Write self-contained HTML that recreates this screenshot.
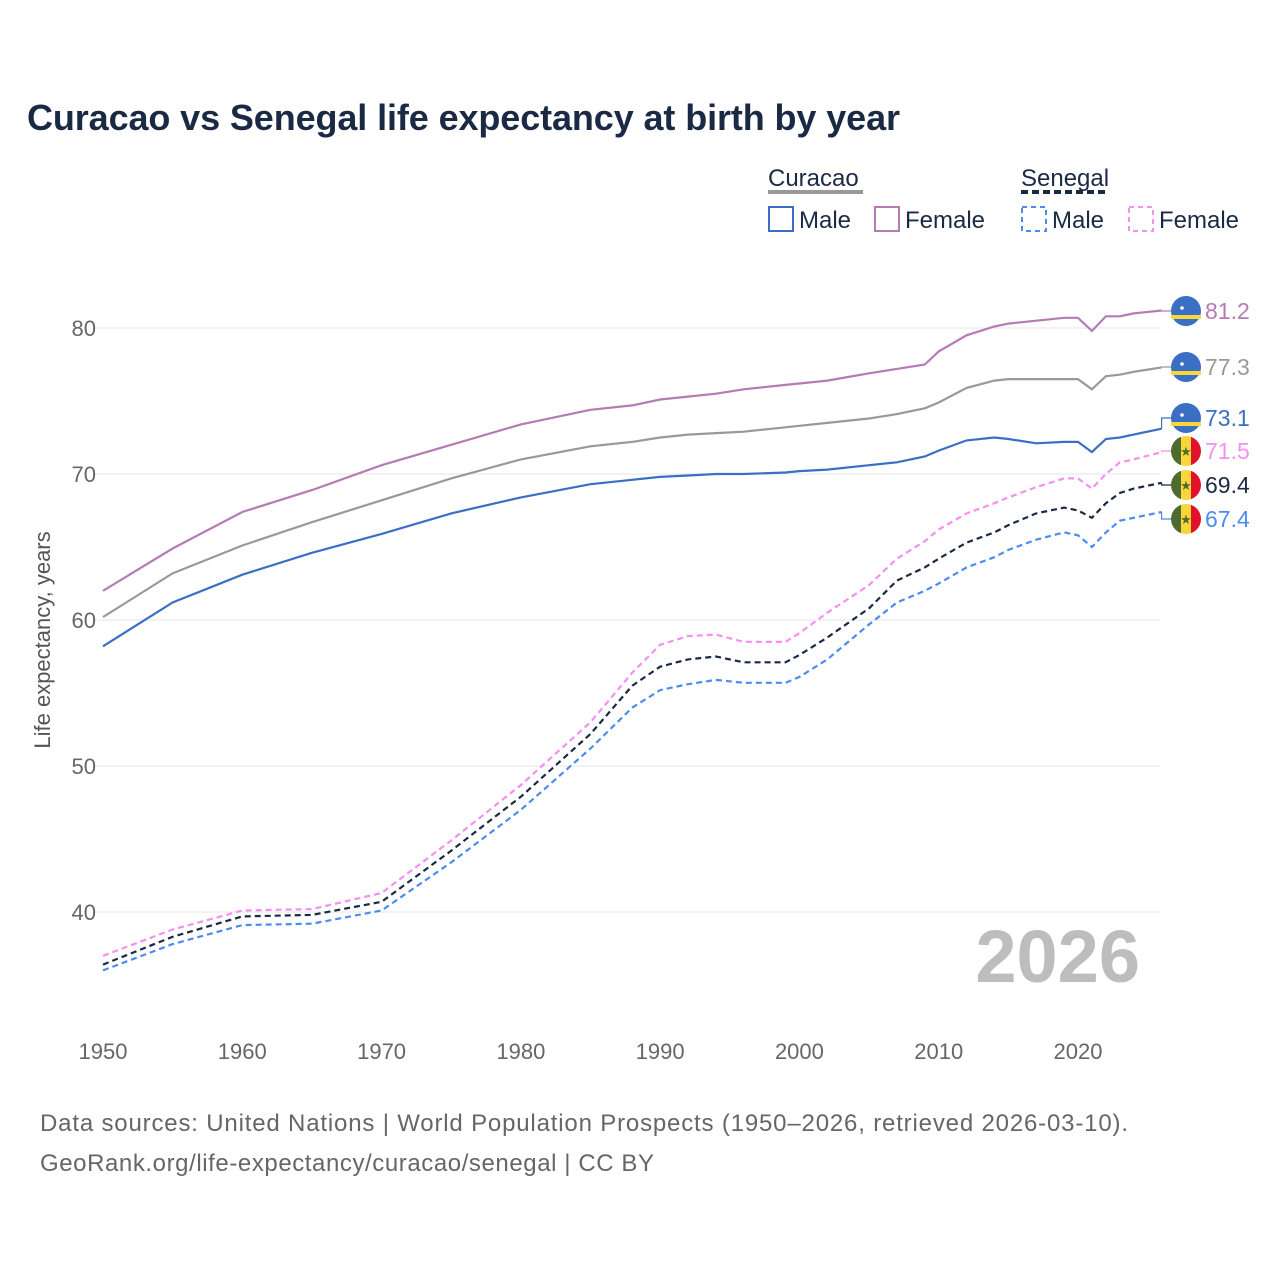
<!DOCTYPE html>
<html><head><meta charset="utf-8"><style>
body{margin:0;background:#fff;font-family:"Liberation Sans",sans-serif}
</style></head><body>
<svg id="chart" width="1280" height="1280" viewBox="0 0 1280 1280" xmlns="http://www.w3.org/2000/svg" font-family="Liberation Sans, sans-serif">
<text x="27" y="130" font-size="36" font-weight="bold" fill="#1b2a44" textLength="873">Curacao vs Senegal life expectancy at birth by year</text>
<g>
<text x="768" y="186" font-size="24" fill="#1b2a44">Curacao</text>
<line x1="768" y1="192" x2="863" y2="192" stroke="#999" stroke-width="4"/>
<text x="1021" y="186" font-size="24" fill="#1b2a44">Senegal</text>
<line x1="1021" y1="192" x2="1109" y2="192" stroke="#1b2a44" stroke-width="4" stroke-dasharray="7,4"/>
<g><rect x="769" y="207" width="24" height="24" fill="none" stroke="#3a6fc4" stroke-width="2"/><text x="799" y="228" font-size="24" fill="#1b2a44">Male</text></g>
<g><rect x="875" y="207" width="24" height="24" fill="none" stroke="#b57bb5" stroke-width="2"/><text x="905" y="228" font-size="24" fill="#1b2a44">Female</text></g>
<g><rect x="1022" y="207" width="24" height="24" fill="none" stroke="#4a8cf0" stroke-width="2" stroke-dasharray="5,4"/><text x="1052" y="228" font-size="24" fill="#1b2a44">Male</text></g>
<g><rect x="1129" y="207" width="24" height="24" fill="none" stroke="#f58ff0" stroke-width="2" stroke-dasharray="5,4"/><text x="1159" y="228" font-size="24" fill="#1b2a44">Female</text></g>
</g>
<text transform="translate(50,640) rotate(-90)" text-anchor="middle" font-size="22" fill="#555">Life expectancy, years</text>
<text x="1140" y="982" text-anchor="end" font-size="74" font-weight="bold" fill="#bdbdbd">2026</text>
<g id="grid"></g><g id="series"></g><g id="ends"></g>
<text x="40" y="1131" font-size="24" fill="#666" textLength="1088">Data sources: United Nations | World Population Prospects (1950–2026, retrieved 2026-03-10).</text>
<text x="40" y="1171" font-size="24" fill="#666" textLength="614">GeoRank.org/life-expectancy/curacao/senegal | CC BY</text>
</svg>
<script>
const years=[1950,1955,1960,1965,1970,1975,1980,1985,1988,1990,1992,1994,1996,1999,2000,2002,2005,2007,2009,2010,2012,2014,2015,2017,2019,2020,2021,2022,2023,2024,2026];
const curacaoFemale=[62.0,64.9,67.4,68.9,70.6,72.0,73.4,74.4,74.7,75.1,75.3,75.5,75.8,76.1,76.2,76.4,76.9,77.2,77.5,78.4,79.5,80.1,80.3,80.5,80.7,80.7,79.8,80.8,80.8,81.0,81.2];
const curacaoTotal=[60.2,63.2,65.1,66.7,68.2,69.7,71.0,71.9,72.2,72.5,72.7,72.8,72.9,73.2,73.3,73.5,73.8,74.1,74.5,74.9,75.9,76.4,76.5,76.5,76.5,76.5,75.8,76.7,76.8,77.0,77.3];
const curacaoMale=[58.2,61.2,63.1,64.6,65.9,67.3,68.4,69.3,69.6,69.8,69.9,70.0,70.0,70.1,70.2,70.3,70.6,70.8,71.2,71.6,72.3,72.5,72.4,72.1,72.2,72.2,71.5,72.4,72.5,72.7,73.1];
const senegalFemale=[37.0,38.8,40.1,40.2,41.3,44.9,48.7,53.0,56.4,58.3,58.9,59.0,58.5,58.5,59.1,60.5,62.4,64.2,65.4,66.2,67.3,68.0,68.4,69.1,69.7,69.7,69.0,70.0,70.8,71.0,71.5];
const senegalTotal=[36.4,38.3,39.7,39.8,40.7,44.2,47.9,52.2,55.5,56.8,57.3,57.5,57.1,57.1,57.6,58.8,60.8,62.7,63.6,64.2,65.3,66.0,66.5,67.3,67.7,67.5,67.0,68.0,68.7,69.0,69.4];
const senegalMale=[36.0,37.8,39.1,39.2,40.1,43.4,47.0,51.2,54.0,55.2,55.6,55.9,55.7,55.7,56.1,57.3,59.7,61.2,62.0,62.5,63.6,64.3,64.8,65.5,66.0,65.8,65.0,66.0,66.8,67.0,67.4];
const yTicks=[40,50,60,70,80];
const xTicks=[1950,1960,1970,1980,1990,2000,2010,2020];
const NS="http://www.w3.org/2000/svg";
const xs=y=>103+(y-1950)*975/70;
const ys=v=>328-(v-80)*14.6;
function mk(t,a,p){const e=document.createElementNS(NS,t);for(const k in a)e.setAttribute(k,a[k]);p.appendChild(e);return e;}
const grid=document.getElementById('grid');
yTicks.forEach(v=>{
 const l=mk('line',{x1:95,x2:1160,y1:ys(v),y2:ys(v),stroke:'#e6e6e6','stroke-width':1},grid);
 
 
 const t=mk('text',{x:96,y:ys(v)+8,'text-anchor':'end','font-size':22,fill:'#666'},grid);
 t.textContent=v;
 
 
});
xTicks.forEach(y=>{
 const t=mk('text',{x:xs(y),y:1059,'text-anchor':'middle','font-size':22,fill:'#666'},grid);
 t.textContent=y;
 
 
});
const series=[
 {n:'curacao-female',d:curacaoFemale,c:'#b57bb5',dash:'',ly:311,lab:'81.2',flag:'cw'},
 {n:'curacao-total',d:curacaoTotal,c:'#999',dash:'',ly:367,lab:'77.3',flag:'cw'},
 {n:'curacao-male',d:curacaoMale,c:'#3a6fc4',dash:'',ly:418,lab:'73.1',flag:'cw'},
 {n:'senegal-female',d:senegalFemale,c:'#f58ff0',dash:'6,4',ly:451,lab:'71.5',flag:'sn'},
 {n:'senegal-total',d:senegalTotal,c:'#1b2a44',dash:'6,4',ly:485,lab:'69.4',flag:'sn'},
 {n:'senegal-male',d:senegalMale,c:'#4a8cf0',dash:'6,4',ly:519,lab:'67.4',flag:'sn'}
];
const sg=document.getElementById('series'),eg=document.getElementById('ends');
series.forEach(s=>{
 const pts=years.map((y,i)=>xs(y).toFixed(1)+','+ys(s.d[i]).toFixed(1)).join(' ');
 const p=mk('polyline',{points:pts,fill:'none',stroke:s.c,'stroke-width':2.2,'stroke-dasharray':s.dash},sg);
 
 
 const ex=xs(years[years.length-1]),ey=ys(s.d[s.d.length-1]);
 mk('polyline',{points:`${ex},${ey} ${ex},${s.ly} 1172,${s.ly}`,fill:'none',stroke:s.c,'stroke-width':1.2},eg);
 const g=mk('g',{},eg);
 
 
 const cx=1186,cy=s.ly;
 if(s.flag==='cw'){
  mk('circle',{cx,cy,r:15,fill:'#3a6fc4'},g);
  mk('rect',{x:cx-15,y:cy+4,width:30,height:4,fill:'#f9d63a'},g);
  mk('circle',{cx:cx-4,cy:cy-3,r:1.8,fill:'#fff'},g);
 } else {
  const cp=mk('clipPath',{id:'c'+s.n},g);mk('circle',{cx,cy,r:15},cp);
  const gg=mk('g',{'clip-path':'url(#c'+s.n+')'},g);
  mk('rect',{x:cx-15,y:cy-15,width:10,height:30,fill:'#4d6b2e'},gg);
  mk('rect',{x:cx-5,y:cy-15,width:10,height:30,fill:'#f9d63a'},gg);
  mk('rect',{x:cx+5,y:cy-15,width:10,height:30,fill:'#e0112b'},gg);
  const st=mk('text',{x:cx,y:cy+5,'text-anchor':'middle','font-size':13,fill:'#4d6b2e'},g);st.textContent='★';
 }
 const t=mk('text',{x:1205,y:s.ly+8,'font-size':23,fill:s.c},eg);
 t.textContent=s.lab;
 
 
});
</script>
</body></html>
